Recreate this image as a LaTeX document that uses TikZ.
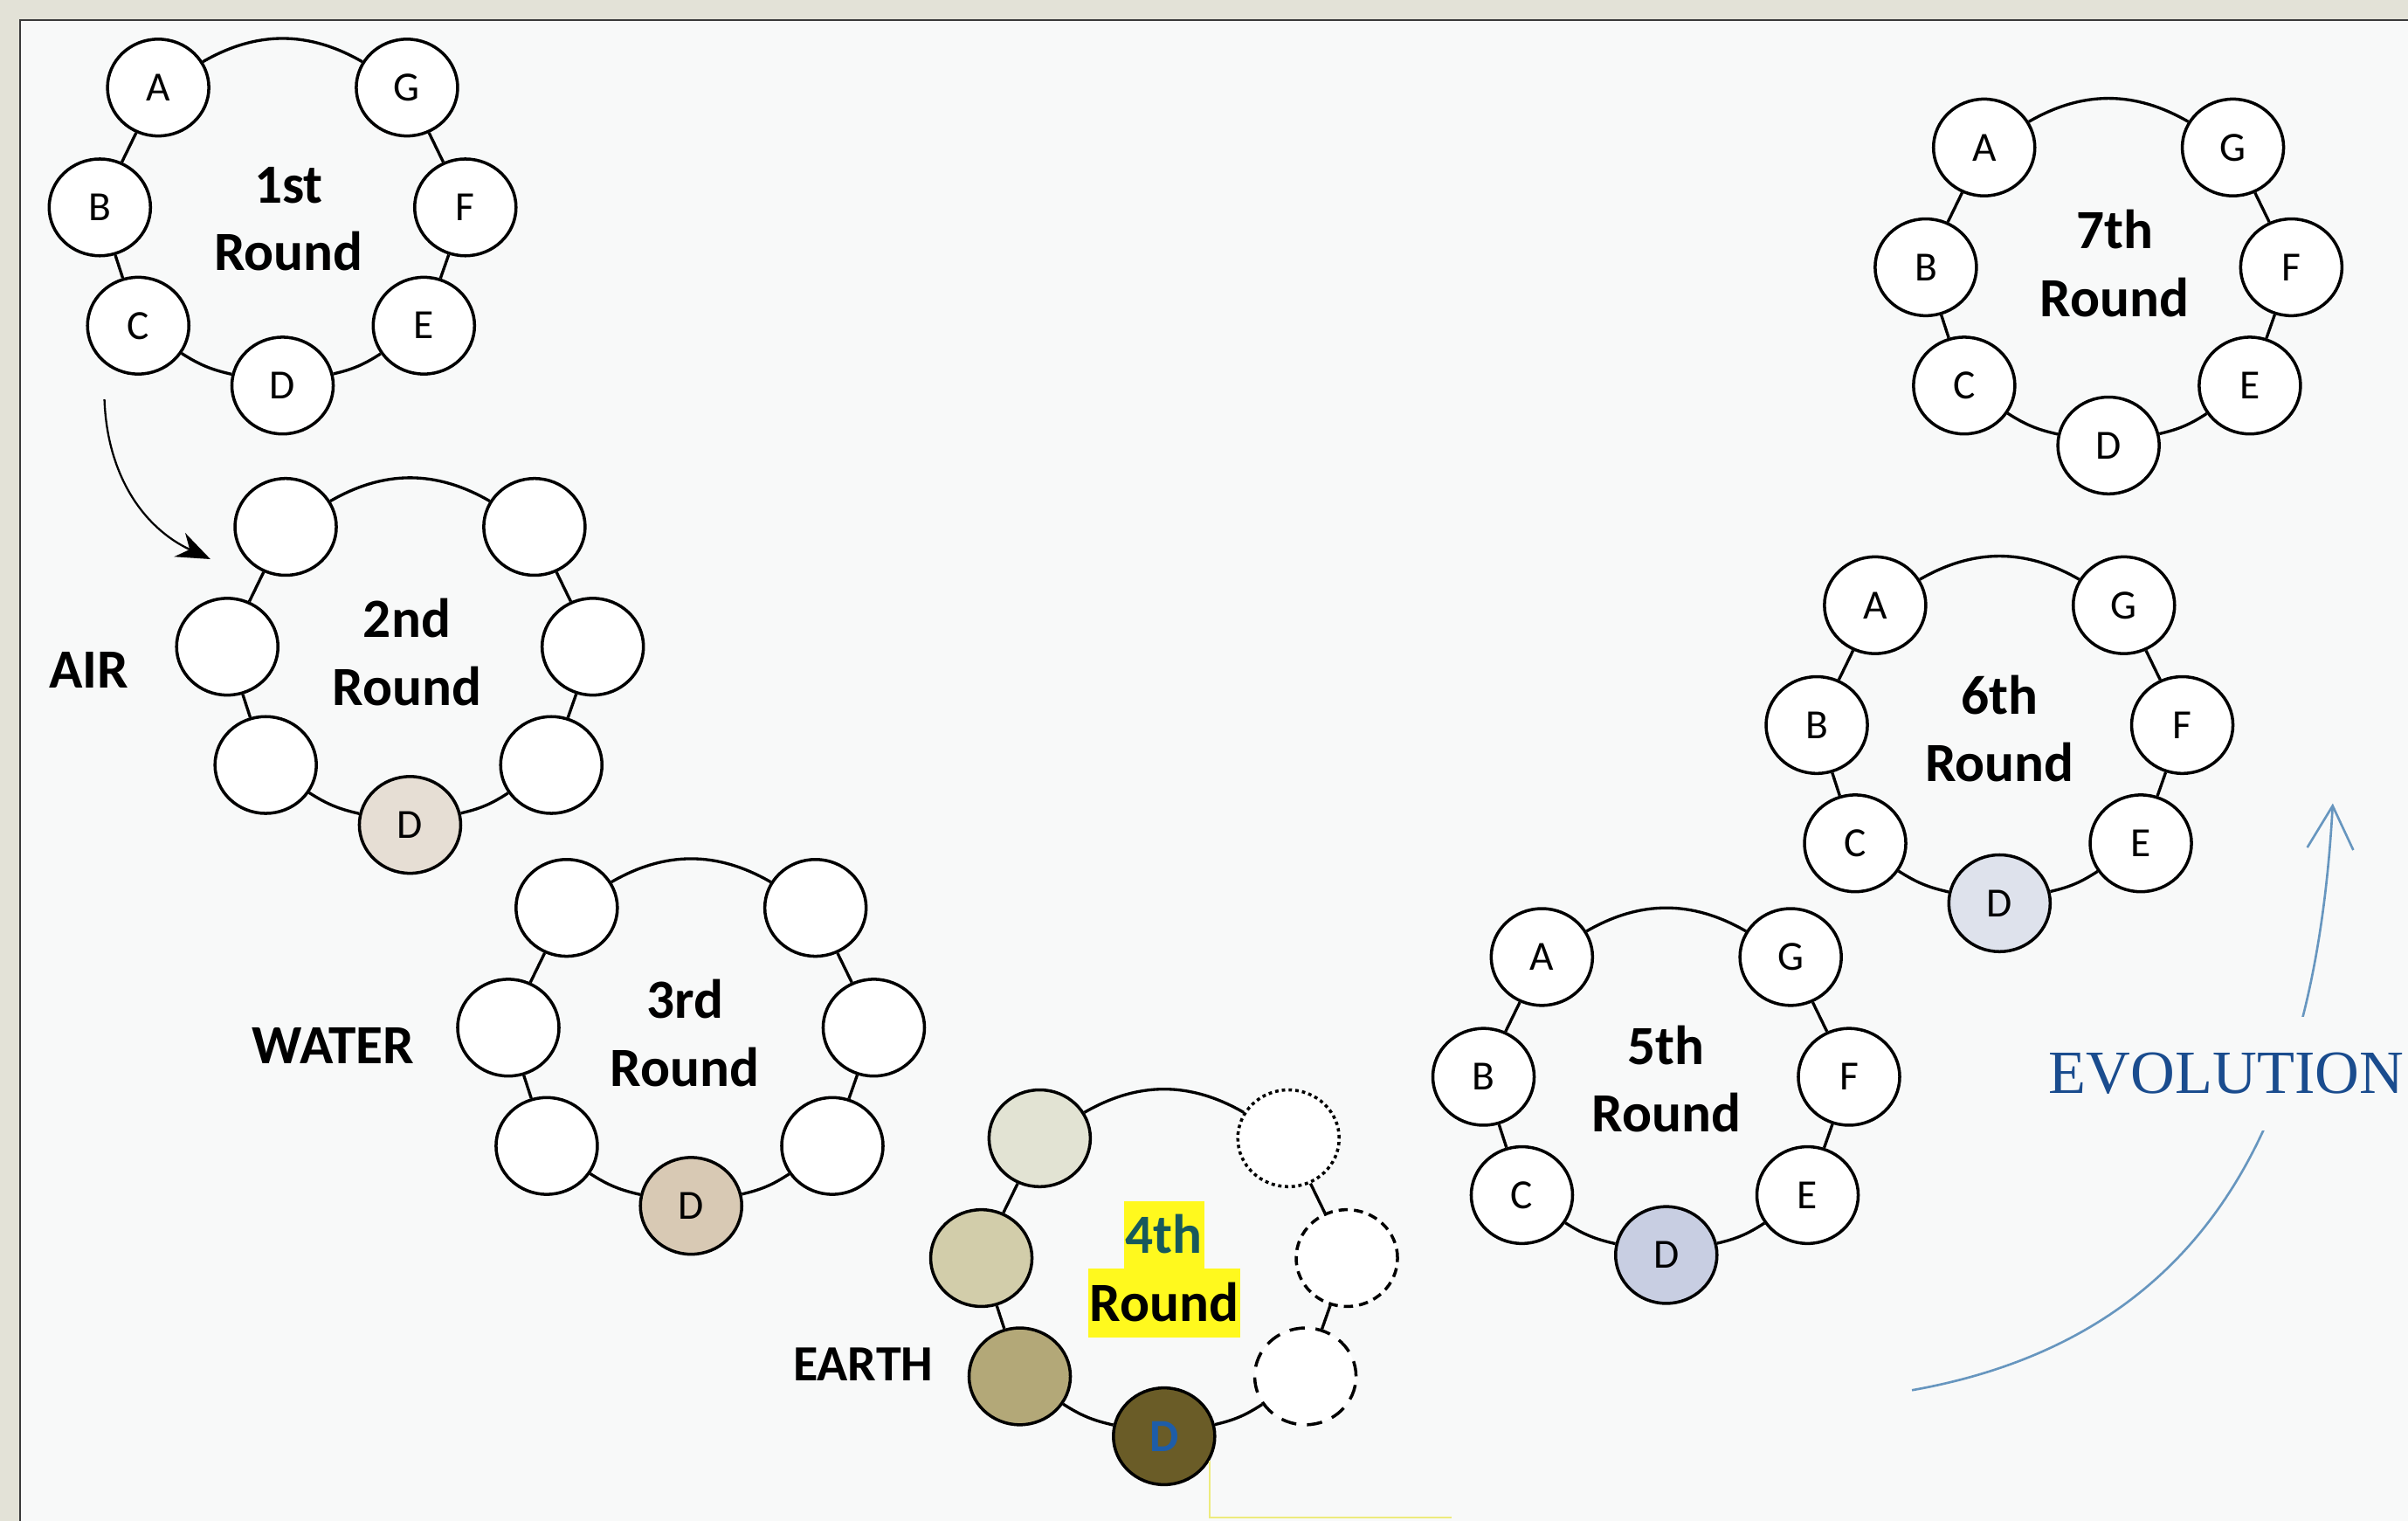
\documentclass[tikz,border=0pt]{standalone}
\usepackage{fontspec}
\setmainfont{Carlito}
\newfontfamily\evofont{Liberation Serif}
\usetikzlibrary{arrows.meta,shapes.geometric}

\definecolor{framecol}{HTML}{E3E2D7}
\definecolor{panelcol}{HTML}{F8F9F9}
\definecolor{edgecol}{HTML}{3A3A3A}
\definecolor{airD}{HTML}{E6DED4}
\definecolor{waterD}{HTML}{D8C9B4}
\definecolor{earthA}{HTML}{E2E3D3}
\definecolor{earthB}{HTML}{D2CDAA}
\definecolor{earthC}{HTML}{B3A878}
\definecolor{earthD}{HTML}{6A5C27}
\definecolor{fifthD}{HTML}{C8CEE2}
\definecolor{sixthD}{HTML}{DEE2EC}
\definecolor{dblue}{HTML}{1E5DA8}
\definecolor{tealtxt}{HTML}{17595C}
\definecolor{hiliteyel}{HTML}{FFF91E}
\definecolor{lineyel}{HTML}{EDEB7D}
\definecolor{evoblue}{HTML}{1A4C8E}
\definecolor{evoarrow}{HTML}{6796BF}

% the six links that join the seven beads of one round
\newcommand\ringlinks[1]{%
  \draw[ringline] (#1a) to[bend left=30] (#1g);
  \draw[ringline] (#1a) -- (#1b);
  \draw[ringline] (#1b) -- (#1c);
  \draw[ringline] (#1c) to[bend right=10] (#1d);
  \draw[ringline] (#1d) to[bend right=10] (#1e);
  \draw[ringline] (#1e) -- (#1f);
  \draw[ringline] (#1f) -- (#1g);
}

\begin{document}
\begin{tikzpicture}[x=1pt,y=1pt,
  bead/.style={ellipse, draw=black, line width=2pt, fill=white,
    minimum width=66pt, minimum height=63pt, inner sep=0pt,
    font=\fontsize{27}{27}\selectfont},
  ringline/.style={draw=black, line width=1.9pt},
  roundtitle/.style={anchor=base, inner xsep=1pt, inner ysep=1pt,
    text height=33pt, text depth=10pt,
    font=\fontsize{36}{44}\selectfont\bfseries},
  elemlabel/.style={inner sep=0pt, font=\fontsize{36}{36}\selectfont\bfseries},
  hilite/.style={fill=hiliteyel}]

% frame and panel
\useasboundingbox (0,0) rectangle (1568,-990);
\fill[framecol] (0,0) rectangle (1568,-990);
\fill[panelcol] (13,-13) rectangle (1568,-990);
\draw[edgecol, line width=1.3pt] (13,-990) -- (13,-13) -- (1568,-13);

% ---------- 1st round ----------
\begin{scope}[shift={(184,-251)}]
  \node[bead] (r1a) at (-81,194) {A};
  \node[bead] (r1g) at (81,194) {G};
  \node[bead] (r1b) at (-119,116) {B};
  \node[bead] (r1f) at (119,116) {F};
  \node[bead] (r1c) at (-94,39) {C};
  \node[bead] (r1e) at (92,39) {E};
  \node[bead] (r1d) at (0,0) {D};
  \node[roundtitle] (r1t) at (4,119) {1st};
  \node[roundtitle] (r1r) at (4,75) {Round};
\end{scope}
\ringlinks{r1}

% ---------- 2nd round ----------
\begin{scope}[shift={(267,-537)}]
  \node[bead] (r2a) at (-81,194) {};
  \node[bead] (r2g) at (81,194) {};
  \node[bead] (r2b) at (-119,116) {};
  \node[bead] (r2f) at (119,116) {};
  \node[bead] (r2c) at (-94,39) {};
  \node[bead] (r2e) at (92,39) {};
  \node[bead, fill=airD] (r2d) at (0,0) {D};
  \node[roundtitle] (r2t) at (-2,122) {2nd};
  \node[roundtitle] (r2r) at (-2,78) {Round};
\end{scope}
\ringlinks{r2}
\node[elemlabel] (air) at (58,-436) {AIR};

% ---------- 3rd round ----------
\begin{scope}[shift={(450,-785)}]
  \node[bead] (r3a) at (-81,194) {};
  \node[bead] (r3g) at (81,194) {};
  \node[bead] (r3b) at (-119,116) {};
  \node[bead] (r3f) at (119,116) {};
  \node[bead] (r3c) at (-94,39) {};
  \node[bead] (r3e) at (92,39) {};
  \node[bead, fill=waterD] (r3d) at (0,0) {D};
  \node[roundtitle] (r3t) at (-4,122) {3rd};
  \node[roundtitle] (r3r) at (-4,78) {Round};
\end{scope}
\ringlinks{r3}
\node[elemlabel] (water) at (217,-681) {WATER};

% ---------- 4th round ----------
\begin{scope}[shift={(758,-935)}]
  \node[bead, fill=earthA] (r4a) at (-81,194) {};
  \node[bead, dash pattern=on 2.2pt off 2.2pt] (r4g) at (81,194) {};
  \node[bead, fill=earthB] (r4b) at (-119,116) {};
  \node[bead, dash pattern=on 6pt off 4pt] (r4f) at (119,116) {};
  \node[bead, fill=earthC] (r4c) at (-94,39) {};
  \node[bead, dash pattern=on 10pt off 7pt] (r4e) at (92,39) {};
  \node[bead, fill=earthD, text=dblue, font=\fontsize{30}{30}\selectfont\bfseries] (r4d) at (0,0) {D};
  \node[roundtitle, hilite, text=tealtxt] (r4t) at (0,119) {4th};
  \node[roundtitle, hilite] (r4r) at (0,75) {Round};
\end{scope}
\ringlinks{r4}
\node[elemlabel, font=\fontsize{33}{33}\selectfont\bfseries] (earth) at (562,-888) {EARTH};
\coordinate (ylc) at (945,-988);
\draw[lineyel, line width=1.4pt] (r4d.-28) |- (ylc);

% ---------- 5th round ----------
\begin{scope}[shift={(1085,-817)}]
  \node[bead] (r5a) at (-81,194) {A};
  \node[bead] (r5g) at (81,194) {G};
  \node[bead] (r5b) at (-119,116) {B};
  \node[bead] (r5f) at (119,116) {F};
  \node[bead] (r5c) at (-94,39) {C};
  \node[bead] (r5e) at (92,39) {E};
  \node[bead, fill=fifthD] (r5d) at (0,0) {D};
  \node[roundtitle] (r5t) at (0,124) {5th};
  \node[roundtitle] (r5r) at (0,80) {Round};
\end{scope}
\ringlinks{r5}

% ---------- 6th round ----------
\begin{scope}[shift={(1302,-588)}]
  \node[bead] (r6a) at (-81,194) {A};
  \node[bead] (r6g) at (81,194) {G};
  \node[bead] (r6b) at (-119,116) {B};
  \node[bead] (r6f) at (119,116) {F};
  \node[bead] (r6c) at (-94,39) {C};
  \node[bead] (r6e) at (92,39) {E};
  \node[bead, fill=sixthD] (r6d) at (0,0) {D};
  \node[roundtitle] (r6t) at (0,123) {6th};
  \node[roundtitle] (r6r) at (0,79) {Round};
\end{scope}
\ringlinks{r6}

% ---------- 7th round ----------
\begin{scope}[shift={(1373,-290)}]
  \node[bead] (r7a) at (-81,194) {A};
  \node[bead] (r7g) at (81,194) {G};
  \node[bead] (r7b) at (-119,116) {B};
  \node[bead] (r7f) at (119,116) {F};
  \node[bead] (r7c) at (-94,39) {C};
  \node[bead] (r7e) at (92,39) {E};
  \node[bead] (r7d) at (0,0) {D};
  \node[roundtitle] (r7t) at (4,128) {7th};
  \node[roundtitle] (r7r) at (4,84) {Round};
\end{scope}
\ringlinks{r7}

% arrow from the 1st round down to the 2nd
\coordinate (arS) at (68,-260);
\coordinate (arE) at (137,-364);
\draw[line width=1.3pt, -{Stealth[length=22pt,width=17pt]}] (arS) to[out=-88, in=155] (arE);

% evolution arrow, interrupted by its label
\coordinate (evoS) at (1245,-905);
\coordinate (evoE) at (1519,-523);
\draw[evoarrow, line width=1.5pt, -{Straight Barb[length=28pt,width=30pt]}]
  (evoS) .. controls (1442,-870) and (1508,-723) .. (evoE);
\node[anchor=west, fill=panelcol, inner xsep=0pt, inner ysep=24pt,
  text height=26pt, text depth=0pt, text=evoblue,
  font=\evofont\fontsize{40}{40}\selectfont] (evo) at (1334,-699) {EVOLUTION};

\end{tikzpicture}
\end{document}
